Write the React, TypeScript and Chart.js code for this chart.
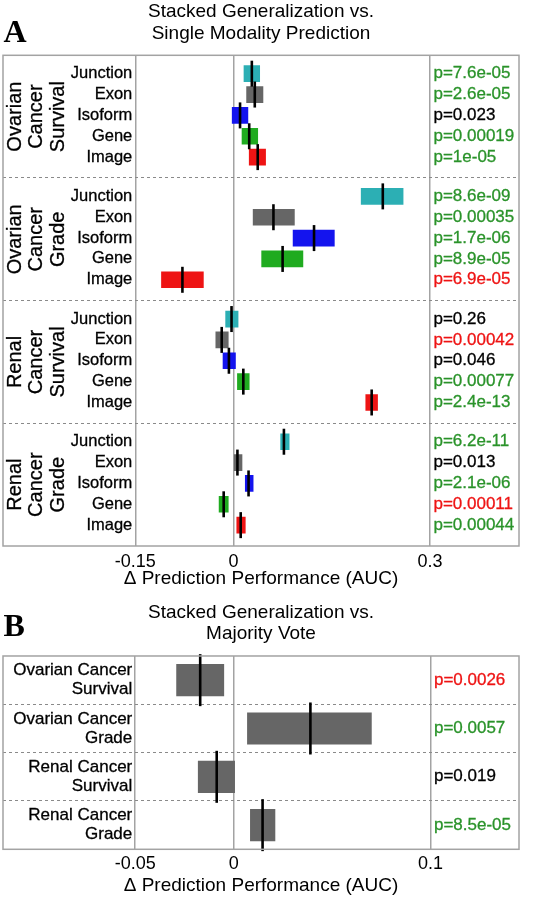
import React, { useEffect, useRef } from "react";
import { Chart, registerables } from "chart.js";

Chart.register(...registerables);

const SANS = "'Liberation Sans', Arial, Helvetica, sans-serif";
const SERIF = "'Liberation Serif', 'Times New Roman', serif";
const GRID = "#a3a3a3";

// ---------- Panel A data ----------
const titleA = ["Stacked Generalization vs.", "Single Modality Prediction"];
const groupNamesA = [
  ["Ovarian", "Cancer", "Survival"],
  ["Ovarian", "Cancer", "Grade"],
  ["Renal", "Cancer", "Survival"],
  ["Renal", "Cancer", "Grade"],
];
const modalities = ["Junction", "Exon", "Isoform", "Gene", "Image"];
const lowA = [
  0.016, 0.020, -0.002, 0.013, 0.024,
  0.195, 0.030, 0.091, 0.043, -0.110,
  -0.012, -0.027, -0.016, 0.006, 0.202,
  0.072, 0.000, 0.018, -0.022, 0.005,
];
const highA = [
  0.040, 0.045, 0.022, 0.037, 0.049,
  0.259, 0.093, 0.154, 0.106, -0.046,
  0.007, -0.008, 0.003, 0.024, 0.220,
  0.085, 0.013, 0.030, -0.008, 0.018,
];
const meanA = [
  0.028, 0.0325, 0.010, 0.024, 0.037,
  0.228, 0.061, 0.123, 0.075, -0.078,
  -0.003, -0.018, -0.007, 0.015, 0.211,
  0.077, 0.006, 0.023, -0.015, 0.011,
];
const pTextA = [
  "p=7.6e-05", "p=2.6e-05", "p=0.023", "p=0.00019", "p=1e-05",
  "p=8.6e-09", "p=0.00035", "p=1.7e-06", "p=8.9e-05", "p=6.9e-05",
  "p=0.26", "p=0.00042", "p=0.046", "p=0.00077", "p=2.4e-13",
  "p=6.2e-11", "p=0.013", "p=2.1e-06", "p=0.00011", "p=0.00044",
];
const pClassA = [
  "better", "better", "ns", "better", "better",
  "better", "better", "better", "better", "worse",
  "ns", "worse", "ns", "better", "better",
  "better", "ns", "better", "worse", "better",
];
const tickValsA = [-0.15, 0, 0.3];
const tickLabelsA = ["-0.15", "0", "0.3"];

// ---------- Panel B data ----------
const titleB = ["Stacked Generalization vs.", "Majority Vote"];
const groupNamesB = [
  ["Ovarian Cancer", "Survival"],
  ["Ovarian Cancer", "Grade"],
  ["Renal Cancer", "Survival"],
  ["Renal Cancer", "Grade"],
];
const lowB = [-0.029, 0.007, -0.018, 0.0085];
const highB = [-0.005, 0.070, 0.0005, 0.021];
const meanB = [-0.017, 0.039, -0.0086, 0.0147];
const pTextB = ["p=0.0026", "p=0.0057", "p=0.019", "p=8.5e-05"];
const pClassB = ["worse", "better", "ns", "better"];
const tickValsB = [-0.05, 0, 0.1];
const tickLabelsB = ["-0.05", "0", "0.1"];

const xTitle = "\u0394 Prediction Performance (AUC)";

// ---------- styles ----------
const modalityColors: Record<string, string> = {
  Junction: "#2cafb4",
  Exon: "#666666",
  Isoform: "#1414ee",
  Gene: "#20ab20",
  Image: "#ee1414",
};
const pColors: Record<string, string> = {
  better: "#2a932a",
  ns: "#000000",
  worse: "#ee1414",
};

type PanelSpec = {
  width: number;
  height: number;
  letter: string;
  letterBaseline: number;
  title: string[];
  titleLineHeight: number;
  titlePadTop: number;
  titlePadBottom: number;
  xMin: number;
  xMax: number;
  tickVals: number[];
  tickLabels: string[];
  tickPad: number;
  xAxisHeight: number;
  xTitlePadBottom: number;
  yMax: number;
  ySeparators: number[];
  positions: number[];
  low: number[];
  high: number[];
  mean: number[];
  barColors: string[];
  barThickness: number;
  markRadius: number;
  rowLabels: string[][];
  rowLabelFont: string;
  rowLabelLineGap: number;
  groupLabels?: { lines: string[]; center: number }[];
  pText: string[];
  pClass: string[];
};

function heavyText(ctx: any, t: string, x: number, y: number, color: string) {
  ctx.fillStyle = color;
  ctx.strokeStyle = color;
  ctx.lineWidth = 0.3;
  ctx.fillText(t, x, y);
  ctx.strokeText(t, x, y);
}

function makePlugin(spec: PanelSpec) {
  return {
    id: "panelText",
    afterDraw(chart: any) {
      const { ctx, chartArea: ca } = chart;
      const x = chart.scales.x;
      const y = chart.scales.y;
      ctx.save();
      // frame
      ctx.setLineDash([]);
      ctx.strokeStyle = GRID;
      ctx.lineWidth = 1.5;
      ctx.strokeRect(ca.left, ca.top, ca.right - ca.left, ca.bottom - ca.top);

      // panel letter
      ctx.fillStyle = "#000";
      ctx.font = `bold 32px ${SERIF}`;
      ctx.textAlign = "left";
      ctx.textBaseline = "alphabetic";
      ctx.fillText(spec.letter, 3.5, spec.letterBaseline);

      // row labels
      const labelRight = x.getPixelForValue(spec.tickVals[0]) - 3;
      ctx.font = spec.rowLabelFont;
      ctx.textAlign = "right";
      ctx.textBaseline = "middle";
      spec.rowLabels.forEach((lines, i) => {
        const cy = y.getPixelForValue(spec.positions[i]);
        const n = lines.length;
        lines.forEach((t, k) => {
          const off = (k - (n - 1) / 2) * spec.rowLabelLineGap;
          heavyText(ctx, t, labelRight, cy + off, "#000");
        });
      });

      // rotated group labels
      if (spec.groupLabels) {
        ctx.font = `20px ${SANS}`;
        ctx.textAlign = "center";
        ctx.textBaseline = "middle";
        spec.groupLabels.forEach((g) => {
          const cy = y.getPixelForValue(g.center);
          g.lines.forEach((t, k) => {
            ctx.save();
            ctx.translate(ca.left + 12.5 + k * 21.3, cy);
            ctx.rotate(-Math.PI / 2);
            heavyText(ctx, t, 0, 0, "#000");
            ctx.restore();
          });
        });
      }

      // p-values
      const pLeft = x.getPixelForValue(spec.tickVals[spec.tickVals.length - 1]) + 3.5;
      ctx.font = `17px ${SANS}`;
      ctx.textAlign = "left";
      ctx.textBaseline = "middle";
      spec.pText.forEach((t, i) => {
        heavyText(ctx, t, pLeft, y.getPixelForValue(spec.positions[i]), pColors[spec.pClass[i]]);
      });
      ctx.restore();
    },
  };
}

function zeroPad(s: any) {
  s.paddingLeft = 0;
  s.paddingRight = 0;
  s.paddingTop = 0;
  s.paddingBottom = 0;
}

function makeConfig(spec: PanelSpec): any {
  const barData = spec.positions.map((p, i) => ({ x: [spec.low[i], spec.high[i]], y: p }));
  const markData = spec.positions.map((p, i) => ({ x: spec.mean[i], y: p }));
  return {
    type: "bar",
    data: {
      datasets: [
        {
          type: "bar",
          data: barData,
          backgroundColor: spec.barColors,
          borderWidth: 0,
          barThickness: spec.barThickness,
          indexAxis: "y",
          order: 2,
        },
        {
          type: "scatter",
          data: markData,
          pointStyle: "line",
          rotation: 90,
          radius: spec.markRadius,
          borderColor: "#000",
          backgroundColor: "#000",
          borderWidth: 2.6,
          showLine: false,
          clip: false,
          order: 1,
        },
      ],
    },
    options: {
      responsive: false,
      animation: false,
      events: [],
      indexAxis: "y",
      layout: { autoPadding: false, padding: { left: 3, right: 29, top: 0, bottom: 0 } },
      plugins: {
        legend: { display: false },
        tooltip: { enabled: false },
        title: {
          display: true,
          text: spec.title,
          color: "#000",
          font: { family: SANS, size: 19, weight: "normal", lineHeight: spec.titleLineHeight },
          padding: { top: spec.titlePadTop, bottom: spec.titlePadBottom },
        },
      },
      scales: {
        x: {
          type: "linear",
          position: "bottom",
          min: spec.xMin,
          max: spec.xMax,
          offset: false,
          afterBuildTicks: (s: any) => {
            s.ticks = spec.tickVals.map((v) => ({ value: v }));
          },
          afterFit: (s: any) => {
            s.height = spec.xAxisHeight;
            zeroPad(s);
          },
          ticks: {
            color: "#000",
            font: { family: SANS, size: 18 },
            padding: spec.tickPad,
            maxRotation: 0,
            autoSkip: false,
            callback: (v: number) => {
              const idx = spec.tickVals.indexOf(v);
              return idx >= 0 ? spec.tickLabels[idx] : "";
            },
          },
          grid: { color: GRID, lineWidth: 1.5, drawTicks: false, offset: false },
          border: { display: false },
          title: {
            display: true,
            text: xTitle,
            color: "#000",
            font: { family: SANS, size: 19, lineHeight: 1.2 },
            padding: { top: 0, bottom: spec.xTitlePadBottom },
          },
        },
        y: {
          type: "linear",
          position: "left",
          min: 0,
          max: spec.yMax,
          reverse: true,
          offset: false,
          afterBuildTicks: (s: any) => {
            s.ticks = spec.ySeparators.map((v) => ({ value: v }));
          },
          afterFit: (s: any) => {
            s.width = 0;
            zeroPad(s);
          },
          ticks: { display: false, padding: 0 },
          grid: { color: "#8a8a8a", lineWidth: 1, drawTicks: false, offset: false },
          border: { display: false, dash: [3, 3] },
        },
      },
    },
    plugins: [makePlugin(spec)],
  };
}

// ---------- layout of rows ----------
const rowOffsetsA = [0.9, 1.92, 2.94, 3.96, 4.98];
const groupSpanA = 6;
const positionsA = lowA.map((_, i) => Math.floor(i / 5) * groupSpanA + rowOffsetsA[i % 5]);
const rowLabelsA = lowA.map((_, i) => [modalities[i % 5]]);
const barColorsA = lowA.map((_, i) => modalityColors[modalities[i % 5]]);

const specA: PanelSpec = {
  width: 548,
  height: 595,
  letter: "A",
  letterBaseline: 41.5,
  title: titleA,
  titleLineHeight: 1.142,
  titlePadTop: 0.8,
  titlePadBottom: 11.1,
  xMin: -0.352,
  xMax: 0.436,
  tickVals: tickValsA,
  tickLabels: tickLabelsA,
  tickPad: 5,
  xAxisHeight: 49,
  xTitlePadBottom: 5.2,
  yMax: groupNamesA.length * groupSpanA,
  ySeparators: [6, 12, 18],
  positions: positionsA,
  low: lowA,
  high: highA,
  mean: meanA,
  barColors: barColorsA,
  barThickness: 16,
  markRadius: 13,
  rowLabels: rowLabelsA,
  rowLabelFont: `16.5px ${SANS}`,
  rowLabelLineGap: 0,
  groupLabels: groupNamesA.map((lines, g) => ({ lines, center: g * groupSpanA + groupSpanA / 2 })),
  pText: pTextA,
  pClass: pClassA,
};

const specB: PanelSpec = {
  width: 548,
  height: 305,
  letter: "B",
  letterBaseline: 41,
  title: titleB,
  titleLineHeight: 1.105,
  titlePadTop: 6.85,
  titlePadBottom: 12.15,
  xMin: -0.1172,
  xMax: 0.145,
  tickVals: tickValsB,
  tickLabels: tickLabelsB,
  tickPad: 3.6,
  xAxisHeight: 50.7,
  xTitlePadBottom: 3.3,
  yMax: 4,
  ySeparators: [1, 2, 3],
  positions: lowB.map((_, i) => i + 0.5),
  low: lowB,
  high: highB,
  mean: meanB,
  barColors: lowB.map(() => "#666666"),
  barThickness: 31.5,
  markRadius: 26,
  rowLabels: groupNamesB,
  rowLabelFont: `17px ${SANS}`,
  rowLabelLineGap: 19.3,
  pText: pTextB,
  pClass: pClassB,
};

function Panel({ spec }: { spec: PanelSpec }) {
  const ref = useRef<HTMLCanvasElement | null>(null);
  useEffect(() => {
    if (!ref.current) return;
    const chart = new Chart(ref.current, makeConfig(spec));
    return () => chart.destroy();
  }, [spec]);
  return (
    <canvas
      ref={ref}
      width={spec.width}
      height={spec.height}
      style={{ display: "block", width: spec.width, height: spec.height }}
    />
  );
}

export default function App() {
  useEffect(() => {
    document.body.style.margin = "0";
  }, []);
  return (
    <div style={{ width: 548, height: 900, background: "#fff" }}>
      <Panel spec={specA} />
      <Panel spec={specB} />
    </div>
  );
}
